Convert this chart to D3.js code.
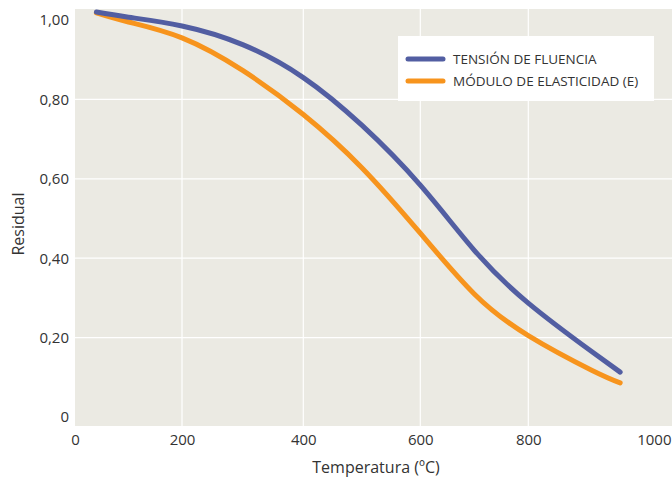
<!DOCTYPE html>
<html><head><meta charset="utf-8">
<script src="https://cdn.jsdelivr.net/npm/d3@7"></script>
<style>body{margin:0;background:#fff;} svg{display:block;font-family:"Open Sans",sans-serif;}</style>
</head><body>
<svg id="c" width="672" height="481"></svg>
<script>
const temps = [40, 100, 200, 300, 400, 500, 600, 700, 800, 900, 945];
const fluencia = [1.02, 1.007, 0.985, 0.938, 0.855, 0.735, 0.584, 0.42, 0.287, 0.165, 0.113];
const elasticidad = [1.018, 0.995, 0.955, 0.873, 0.762, 0.628, 0.463, 0.31, 0.205, 0.118, 0.086];
const xTicks = [0, 200, 400, 600, 800, 1000];
const yTicks = [0, 0.2, 0.4, 0.6, 0.8, 1.0];
const yTickLabels = ["0", "0,20", "0,40", "0,60", "0,80", "1,00"];
const seriesNames = ["TENSIÓN DE FLUENCIA", "MÓDULO DE ELASTICIDAD (E)"];
const seriesColors = ["#525ea2", "#f7941d"];

const svg = d3.select("#c");
const plot = {left: 75, right: 672, top: 9, bottom: 426};
const x = d3.scaleLinear().domain(xTicks).range([75, 182, 303.3, 420.3, 528.3, 655]);
const y = d3.scaleLinear().domain([0, 1]).range([417, 20]);

svg.append("rect").attr("x", plot.left).attr("y", plot.top)
  .attr("width", plot.right - plot.left).attr("height", plot.bottom - plot.top)
  .attr("fill", "#ebeae3");

// gridlines
svg.append("g").selectAll("line").data(xTicks.filter(d => d > 0 && d < 1000)).join("line")
  .attr("x1", d => x(d)).attr("x2", d => x(d)).attr("y1", plot.top).attr("y2", plot.bottom)
  .attr("stroke", "#fff").attr("stroke-width", 1.2);
svg.append("g").selectAll("line").data(yTicks.filter(d => d > 0 && d < 1)).join("line")
  .attr("x1", plot.left).attr("x2", plot.right).attr("y1", d => y(d)).attr("y2", d => y(d))
  .attr("stroke", "#fff").attr("stroke-width", 1.2);

// axes
const xAxis = d3.axisBottom(x).tickValues(xTicks).tickFormat(d3.format("d")).tickSize(0).tickPadding(8);
svg.append("g").attr("transform", `translate(0,${plot.bottom})`).call(xAxis)
  .call(g => g.select(".domain").remove())
  .selectAll("text").attr("font-size", 15).attr("fill", "#333").attr("font-family", "Open Sans")
  .filter(d => d === 1000).attr("text-anchor", "end").attr("dx", 16);
const yAxis = d3.axisLeft(y).tickValues(yTicks).tickFormat((d, i) => yTickLabels[i]).tickSize(0).tickPadding(6);
svg.append("g").attr("transform", `translate(${plot.left},0)`).call(yAxis)
  .call(g => g.select(".domain").remove())
  .selectAll("text").attr("font-size", 15).attr("fill", "#333").attr("font-family", "Open Sans");

// titles
svg.append("text").attr("x", 376).attr("y", 473).attr("text-anchor", "middle")
  .attr("font-size", 16).attr("fill", "#333").text("Temperatura (ºC)");
svg.append("text").attr("transform", "translate(24,224) rotate(-90)").attr("text-anchor", "middle")
  .attr("font-size", 16).attr("fill", "#333").text("Residual");

// lines
const line = d3.line().x(d => x(d[0])).y(d => y(d[1])).curve(d3.curveNatural);
[elasticidad, fluencia].forEach((vals, k) => {
  const idx = k === 0 ? 1 : 0;
  svg.append("path").datum(temps.map((t, i) => [t, vals[i]]))
    .attr("d", line).attr("fill", "none").attr("stroke", seriesColors[idx])
    .attr("stroke-width", 5).attr("stroke-linecap", "round").attr("stroke-linejoin", "round");
});

// legend
const lg = svg.append("g");
lg.append("rect").attr("x", 398).attr("y", 36).attr("width", 256).attr("height", 65).attr("fill", "#fff");
seriesNames.forEach((n, i) => {
  const yy = 59 + i * 22;
  lg.append("line").attr("x1", 408).attr("x2", 443).attr("y1", yy).attr("y2", yy)
    .attr("stroke", seriesColors[i]).attr("stroke-width", 5).attr("stroke-linecap", "round");
  lg.append("text").attr("x", 453).attr("y", yy).attr("dy", "0.36em")
    .attr("font-size", 13.5).attr("fill", "#333").text(n);
});
</script>
</body></html>
